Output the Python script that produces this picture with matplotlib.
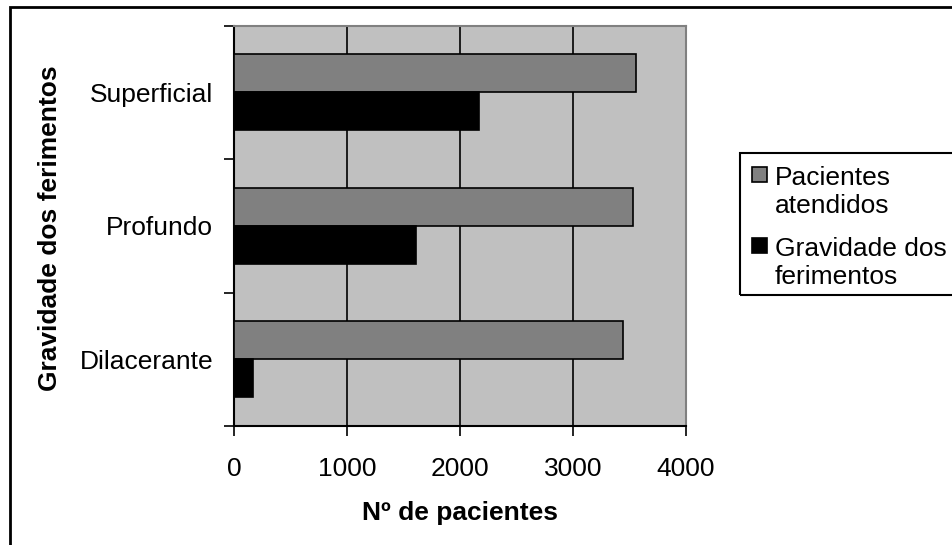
import matplotlib as mpl
import matplotlib.pyplot as plt
from matplotlib.patches import Rectangle
import numpy as np

mpl.rcParams['font.family'] = ['Liberation Sans', 'DejaVu Sans']

categories = ['Dilacerante', 'Profundo', 'Superficial']
atendidos = [3440, 3530, 3560]
gravidade = [165, 1615, 2165]
series_names = ['Pacientes\natendidos', 'Gravidade dos\nferimentos']
series_colors = ['#808080', 'black']

W, H = 953, 545
FS = 19
fig = plt.figure(figsize=(W / 100, H / 100), dpi=100)

def px(x, y):
    # pixel position (from top-left) -> figure fraction
    return x / W, 1 - y / H

# outer chart frame, running off the right and bottom edges
fig.patches.append(Rectangle((10 / W, -0.02), 1.05, 1 - 7 / H + 0.02,
                             transform=fig.transFigure, fill=False,
                             edgecolor='black', lw=2, zorder=0))

ax = fig.add_axes([234 / W, 1 - 426 / H, (686 - 234) / W, (426 - 25.5) / H])
ax.set_facecolor('#C0C0C0')

y = np.arange(len(categories))
h = 0.285
ax.barh(y + h / 2, atendidos, height=h, color=series_colors[0],
        edgecolor='black', lw=1.2, zorder=3)
ax.barh(y - h / 2, gravidade, height=h, color=series_colors[1],
        edgecolor='black', lw=1.2, zorder=3)

ax.set_xlim(0, 4000)
ax.set_ylim(-0.5, len(categories) - 0.5)
ax.set_xticks([0, 1000, 2000, 3000, 4000])
ax.xaxis.grid(True, color='black', lw=1.2, zorder=1)
ax.set_axisbelow(True)

# boundary ticks between categories, labels at the centres
ax.set_yticks(np.arange(len(categories) + 1) - 0.5)
ax.set_yticklabels([])
ax.set_yticks(y, minor=True)
ax.set_yticklabels(categories, minor=True)
ax.tick_params(axis='y', which='minor', length=0, pad=15, labelsize=FS)
ax.tick_params(axis='y', which='major', length=7, width=1.2, direction='out')
ax.tick_params(axis='x', length=7, width=1.2, pad=15, labelsize=FS)

for s in ['left', 'bottom']:
    ax.spines[s].set_color('black')
    ax.spines[s].set_linewidth(1.5)
for s in ['top', 'right']:
    ax.spines[s].set_color('#808080')
    ax.spines[s].set_linewidth(1.5)

ax.set_xlabel('Nº de pacientes', fontsize=FS, fontweight='bold', labelpad=15)
fig.text(*px(50, 228), 'Gravidade dos ferimentos', rotation=90,
         fontsize=FS, fontweight='bold', ha='center', va='center')

# legend box drawn by hand so the swatch sits beside the first text line
lx, ly0, ly1 = 740, 153, 295
fig.patches.append(Rectangle(px(lx, ly1), (W - lx + 20) / W, (ly1 - ly0) / H,
                             transform=fig.transFigure, fill=False,
                             edgecolor='black', lw=1.5))
for i, (name, col) in enumerate(zip(series_names, series_colors)):
    top = 167 + i * 71
    fig.patches.append(Rectangle(px(752, top + 15), 15 / W, 15 / H,
                                 transform=fig.transFigure, facecolor=col,
                                 edgecolor='black', lw=1.2))
    for j, line in enumerate(name.split('\n')):
        fig.text(*px(775, top + 18 + j * 28), line, fontsize=FS,
                 ha='left', va='baseline')

fig.savefig('out.png', dpi=100)
